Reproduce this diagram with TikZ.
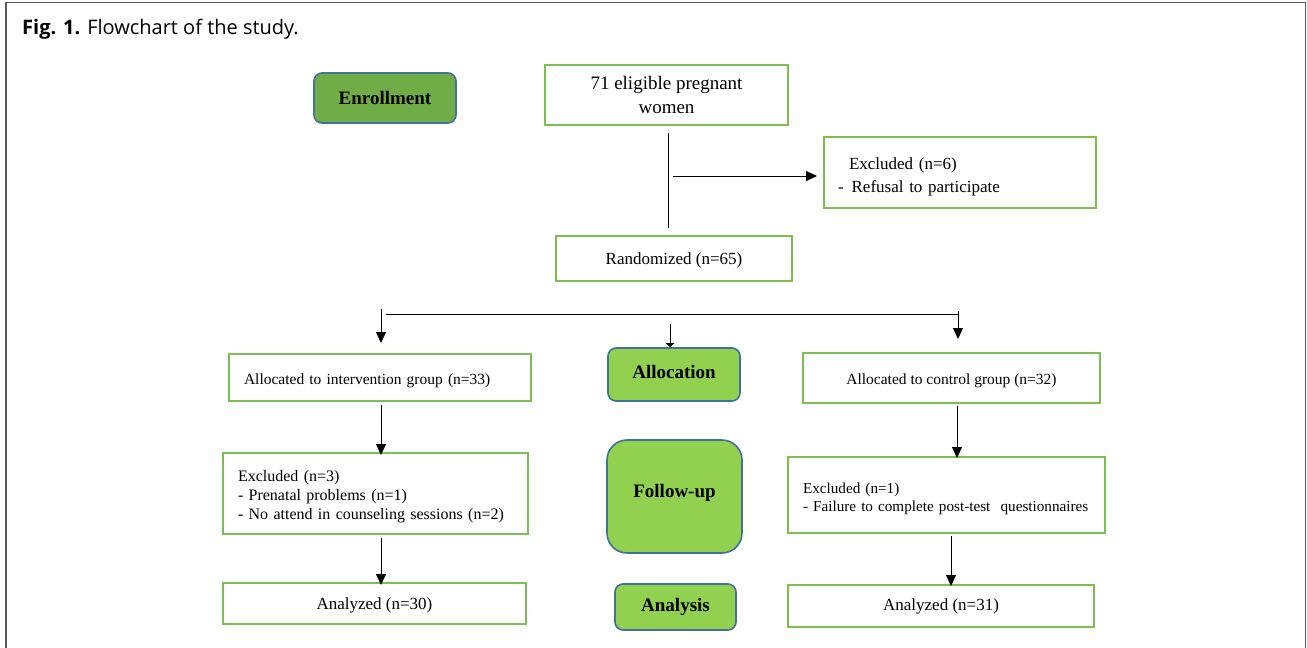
\documentclass[tikz,border=0pt]{standalone}
\usepackage{fontspec}
\setmainfont{Liberation Serif}
\newfontfamily\capfont{Open Sans}
\usetikzlibrary{arrows.meta}
\definecolor{boxgreen}{RGB}{124,190,82}
\definecolor{darkfill}{RGB}{112,173,71}
\definecolor{lightfill}{RGB}{146,208,80}
\definecolor{bluebd}{RGB}{65,113,156}
\definecolor{framegray}{RGB}{90,90,90}
\newcommand{\shiftdown}[2]{\raisebox{-#1}[\height][\depth]{#2}}
\tikzset{
  gbox/.style={draw=boxgreen, line width=2pt, rectangle, inner sep=0pt, font=\fontsize{17}{21}\selectfont},
  phase/.style={draw=bluebd, line width=1.6pt, rounded corners=8pt, fill=lightfill, inner sep=0pt, font=\bfseries\fontsize{19}{23}\selectfont},
  conn/.style={line width=1pt, black},
  arr/.style={conn, -{Triangle[length=11pt,width=10pt]}}
}
\begin{document}
\begin{tikzpicture}[x=1pt,y=-1pt]
\useasboundingbox (0,0) rectangle (1307,648);
\draw[line width=1.5pt, framegray] (6,648) -- (6,2.5) -- (1305.5,2.5) -- (1305.5,648);
\node[anchor=base west, font=\capfont\fontsize{20}{24}\selectfont, inner sep=0pt] (cap) at (22,34) {\textbf{Fig. 1.} Flowchart of the study.};

% phase boxes
\node[phase, fill=darkfill, minimum width=142pt, minimum height=50pt] (enr) at (385,98) {Enrollment};
\node[phase, minimum width=132pt, minimum height=53pt] (alloc) at (674,374.5) {\shiftdown{-2.5pt}{Allocation}};
\node[phase, rounded corners=20pt, minimum width=135pt, minimum height=113pt] (fu) at (674.5,496.5) {\shiftdown{-4pt}{Follow-up}};
\node[phase, minimum width=121pt, minimum height=46pt] (ana) at (675.5,607) {Analysis};

% flow boxes
\node[gbox, minimum width=243pt, minimum height=60pt, align=center, font=\fontsize{19}{24}\selectfont] (elig) at (666.5,95) {71 eligible pregnant\\women};
\node[gbox, minimum width=272pt, minimum height=71pt, text width=244pt, align=left, inner xsep=14pt, font=\fontsize{17}{23}\selectfont] (ex6) at (960,172.5) {\shiftdown{4pt}{\parbox{244pt}{\hspace*{11pt}Excluded (n=6)\\-\hspace*{8pt}Refusal to participate}}};
\node[gbox, minimum width=236pt, minimum height=45pt] (rand) at (674,258.5) {\shiftdown{1.5pt}{Randomized (n=65)}};

\node[gbox, minimum width=302pt, minimum height=47pt, text width=272pt, align=left, inner xsep=15pt, font=\fontsize{15.5}{19}\selectfont] (int) at (380,377.5) {\shiftdown{3pt}{Allocated to intervention group (n=33)}};
\node[gbox, minimum width=297pt, minimum height=50pt, font=\fontsize{15.5}{19}\selectfont] (ctrl) at (951.5,378) {\shiftdown{2.5pt}{Allocated to control group (n=32)}};

\node[gbox, minimum width=305pt, minimum height=81pt, text width=275pt, align=left, inner xsep=15pt, font=\fontsize{16}{19}\selectfont] (ex3) at (375.5,493.5) {\shiftdown{3.5pt}{\parbox{275pt}{Excluded (n=3)\\- Prenatal problems (n=1)\\- No attend in counseling sessions (n=2)}}};
\node[gbox, minimum width=317pt, minimum height=76pt, text width=287pt, align=left, inner xsep=15pt, font=\fontsize{15.2}{18.5}\selectfont] (ex1) at (946.5,495) {\shiftdown{4pt}{\parbox{287pt}{\raggedright Excluded (n=1)\\\makebox[0pt][l]{- Failure to complete post-test\ \ questionnaires}}}};

\node[gbox, minimum width=303pt, minimum height=41pt] (an30) at (374.5,603.5) {\shiftdown{1.5pt}{Analyzed (n=30)}};
\node[gbox, minimum width=306pt, minimum height=42pt] (an31) at (941,606) {Analyzed (n=31)};

% connectors
\draw[conn] ([xshift=1.5pt,yshift=-7pt]elig.south) -- ([xshift=-6pt,yshift=7pt]rand.north);
\coordinate (j1) at ([xshift=1.5pt,yshift=-50pt]elig.south);
\draw[arr] ([xshift=5pt]j1) -- ([xshift=-6pt]j1 -| ex6.west);

\coordinate (hl) at ([xshift=6pt,yshift=39pt]int.north);
\coordinate (hr) at ([xshift=6.5pt,yshift=38pt]ctrl.north);
\draw[conn] (hl) -- (hr);
\draw[arr] ([xshift=1pt,yshift=44pt]int.north) -- ([xshift=1pt,yshift=10pt]int.north);
\draw[conn, -{Triangle[length=4pt,width=8pt]}] ([xshift=-4pt,yshift=23pt]alloc.north) -- ([xshift=-4pt]alloc.north);
\draw[arr] ([xshift=6.5pt,yshift=41pt]ctrl.north) -- ([xshift=6.5pt,yshift=13pt]ctrl.north);

\draw[arr] ([xshift=1pt,yshift=-3pt]int.south) -- ([xshift=1pt,yshift=-3pt]int.south |- ex3.north);
\draw[arr] ([xshift=5.5pt,yshift=-3pt]ex3.south) -- ([xshift=5.5pt,yshift=-3pt]ex3.south |- an30.north);
\draw[arr] ([xshift=5.5pt,yshift=-2pt]ctrl.south) -- ([xshift=5.5pt,yshift=-2pt]ctrl.south |- ex1.north);
\draw[arr] ([xshift=4.5pt,yshift=-2pt]ex1.south) -- ([xshift=4.5pt,yshift=-2pt]ex1.south |- an31.north);
\end{tikzpicture}
\end{document}
